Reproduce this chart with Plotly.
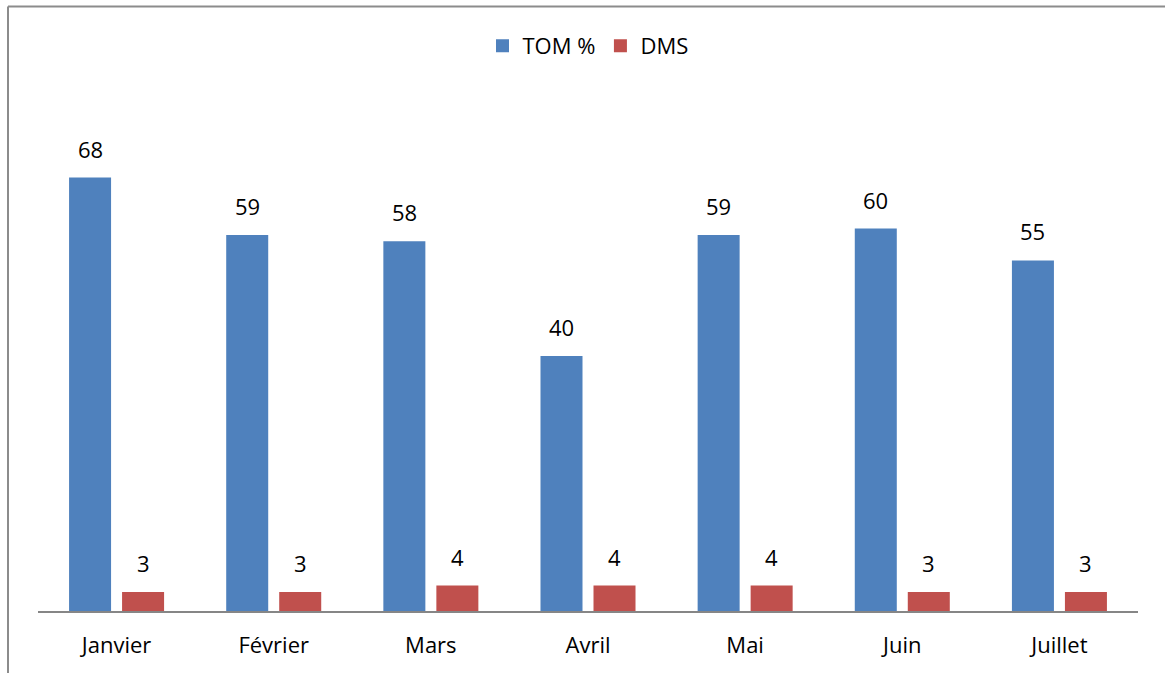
import plotly.graph_objects as go

months = ["Janvier", "Février", "Mars", "Avril", "Mai", "Juin", "Juillet"]
tom = [68, 59, 58, 40, 59, 60, 55]
dms = [3, 3, 4, 4, 4, 3, 3]
series_names = ["TOM %", "DMS"]

BLUE = "#4F81BD"
RED = "#C0504D"
FONT = "Open Sans"
FS = 22

fig = go.Figure()
fig.add_trace(go.Bar(name=series_names[0], x=months, y=tom, showlegend=False, legendgroup="a",
                     marker=dict(color=BLUE, line=dict(width=0))))
fig.add_trace(go.Bar(name=series_names[1], x=months, y=dms, showlegend=False, legendgroup="b",
                     marker=dict(color=RED, line=dict(width=0))))
# legend entries with square symbols
fig.add_trace(go.Scatter(name=series_names[0], x=[None], y=[None], mode="markers", legendgroup="a",
                         marker=dict(symbol="square", size=13, color=BLUE)))
fig.add_trace(go.Scatter(name=series_names[1], x=[None], y=[None], mode="markers", legendgroup="b",
                         marker=dict(symbol="square", size=13, color=RED)))

annotations = []
for m, v in zip(months, tom):
    annotations.append(dict(x=m, y=v, text=str(v), showarrow=False, xshift=-26.5, yshift=12,
                            yanchor="bottom", font=dict(size=FS, color="black", family=FONT)))
for m, v in zip(months, dms):
    annotations.append(dict(x=m, y=v, text=str(v), showarrow=False, xshift=26.5, yshift=12,
                            yanchor="bottom", font=dict(size=FS, color="black", family=FONT)))

W, H = 1165, 673
L, R, T, B = 38, 27, 101, 62
pw = W - L - R
ph = H - T - B
x0 = (8 - L) / pw
y1 = (H - B - 6.5) / ph

fig.update_layout(
    width=W, height=H,
    margin=dict(l=L, r=R, t=T, b=B),
    paper_bgcolor="white", plot_bgcolor="white",
    barmode="group", bargap=0.3254, bargroupgap=0.2075,
    font=dict(family=FONT, size=FS, color="black"),
    legend=dict(orientation="h", x=0.5, xanchor="center", y=0.963, yref="container", yanchor="top",
                font=dict(size=FS), traceorder="normal", itemwidth=30, itemclick=False),
    xaxis=dict(showline=True, linecolor="#868686", linewidth=2, ticks="", showgrid=False,
               tickfont=dict(size=FS), ticklabelstandoff=14),
    yaxis=dict(range=[0, 80], visible=False, showgrid=False),
    annotations=annotations,
    shapes=[
        dict(type="line", xref="paper", yref="paper", x0=x0, x1=1.2, y0=y1, y1=y1,
             line=dict(color="#8C8C8C", width=2)),
        dict(type="line", xref="paper", yref="paper", x0=x0, x1=x0, y0=y1, y1=-0.3,
             line=dict(color="#8C8C8C", width=2)),
    ],
)

fig.write_html("out.html", config={"displayModeBar": False},
               post_script="document.body.style.margin='0';document.body.style.overflow='hidden';")
